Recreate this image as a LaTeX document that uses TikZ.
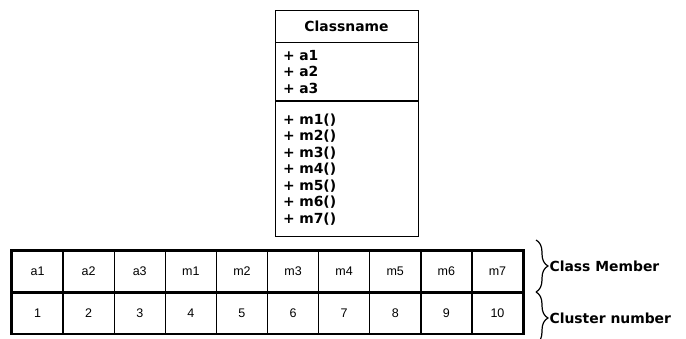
\documentclass[tikz,border=0pt]{standalone}
\usepackage{fontspec}
\usetikzlibrary{positioning,decorations.pathreplacing}
\newfontfamily\umlfont{DejaVu Sans}
\newfontfamily\cellfont{Liberation Sans}
\begin{document}
\begin{tikzpicture}[x=1pt,y=-1pt,inner sep=0pt,
        part/.style={draw,line width=0.9pt,minimum width=143pt,text width=127pt,
          inner xsep=8pt,align=left,font=\umlfont\bfseries\fontsize{13.9}{16.5}\selectfont},
        cell/.style={draw,line width=1.4pt,minimum width=51.1pt,minimum height=40.5pt,
          font=\cellfont\fontsize{12.5}{14}\selectfont},
        brc/.style={decorate,decoration={brace,amplitude=12pt},line width=1.2pt},
        lbl/.style={right=1pt,font=\umlfont\bfseries\fontsize{13.9}{16.5}\selectfont}]
        \useasboundingbox (0,0) rectangle (686,339);
        % class box
        \node[part,align=center,minimum height=31.5pt] (head) at (346.5,26.25) {Classname};
        \node[part,minimum height=58pt,below=0pt of head] (attrs) {+ a1\\+ a2\\+ a3};
        \node[part,minimum height=135pt,below=0pt of attrs] (meths)
          {+ m1()\\+ m2()\\+ m3()\\+ m4()\\+ m5()\\+ m6()\\+ m7()};
        % member table
        \foreach \t [count=\i] in {a1,a2,a3,m1,m2,m3,m4,m5,m6,m7} {
          \node[cell] (mem\i) at ({12+51.1*(\i-0.5)},271.25) {\t};
          \node[cell,below=0pt of mem\i] (num\i) {\i};
        }
        \draw[line width=1.9pt] (mem1.north west) rectangle (num10.south east);
        % braces
        \coordinate (b1) at (536,240);
        \coordinate (b2) at (536,292);
        \coordinate (b3) at (536,344);
        \draw[brc] (b1) -- node[lbl,xshift=12pt] (member) {Class Member} (b2);
        \draw[brc] (b2) -- node[lbl,xshift=12pt] (cluster) {Cluster number} (b3);
\end{tikzpicture}
\end{document}
